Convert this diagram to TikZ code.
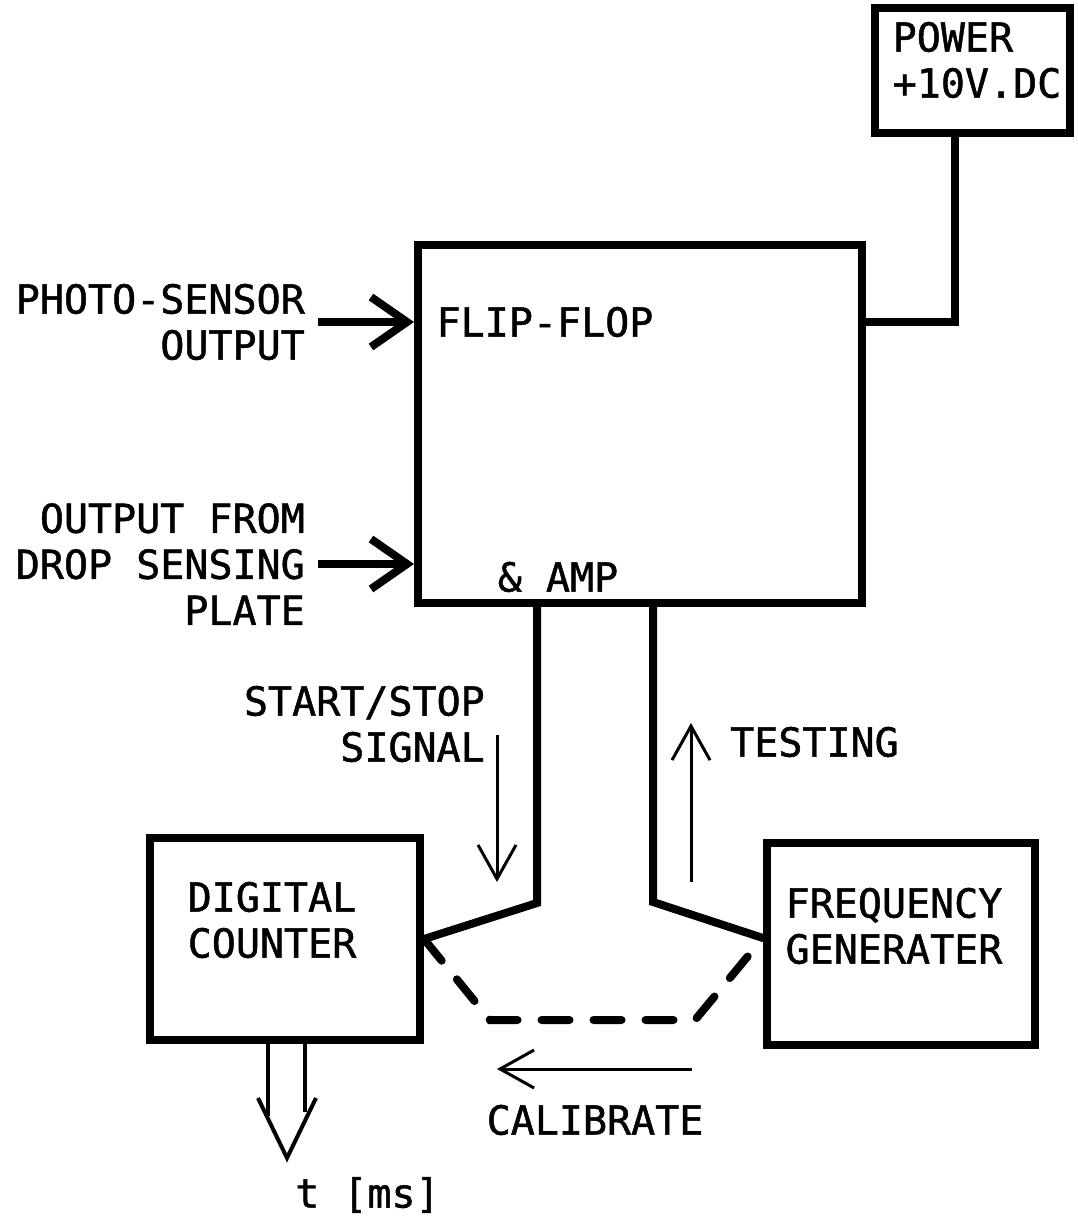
\documentclass[tikz,border=0pt]{standalone}
\usepackage{fontspec}
\newfontfamily\plotfont[FakeBold=1.2]{DejaVu Sans Mono}
\usetikzlibrary{arrows.meta}

\begin{document}
\begin{tikzpicture}[x=1pt,y=-1pt,
  box/.style={draw,line width=8pt,inner sep=0pt},
  lbl/.style={font=\plotfont\fontsize{40}{46}\selectfont,inner sep=0pt},
  wire/.style={line width=8pt},
  feed/.style={line width=8pt,-{Straight Barb[length=36pt,width=50pt]}},
  sig/.style={line width=3pt,-{Straight Barb[length=34pt,width=38pt]}},
  link/.style={line width=8pt,line cap=round,dash pattern=on 28pt off 24pt},
  outarrow/.style={line width=4pt}]
  \useasboundingbox (0,0) rectangle (1078,1226);
  % blocks
  \node[box,minimum width=195pt,minimum height=125pt] (power) at (972,70) {};
  \node[lbl,align=left] (powtxt) at (977,60) {POWER\\+10V.DC};
  \node[box,minimum width=444pt,minimum height=358pt] (ff) at (640,424) {};
  \node[lbl] (ffa) at (545,322) {FLIP-FLOP};
  \node[lbl] (ffb) at (558,577) {\& AMP};
  \node[box,minimum width=270pt,minimum height=202pt] (counter) at (285,939) {};
  \node[lbl,align=center] (countertxt) at (272,920) {DIGITAL\\COUNTER};
  \node[box,minimum width=268pt,minimum height=202pt] (freq) at (901,944) {};
  \node[lbl,align=left] (freqtxt) at (894,926) {FREQUENCY\\GENERATER};
  % labels
  \node[lbl,align=right,anchor=east] (photo) at (305,322) {PHOTO-SENSOR\\OUTPUT};
  \node[lbl,align=right,anchor=east] (drop) at (305,564) {OUTPUT FROM\\DROP SENSING\\PLATE};
  \node[lbl,align=right,anchor=east] (start) at (485,724) {START/STOP\\SIGNAL};
  \node[lbl,anchor=west] (test) at (730,742) {TESTING};
  \node[lbl] (calib) at (595,1120) {CALIBRATE};
  \node[lbl,anchor=west] (tms) at (295,1195) {t [ms]};
  % wiring
  \coordinate (pwbend) at (955,322);
  \draw[wire] (power.south -| pwbend) |- (ff.east |- pwbend);
  \draw[feed] ([xshift=13pt]photo.east) -- (ff.west |- photo.east);
  \draw[feed] ([xshift=13pt]drop.east) -- (ff.west |- drop.east);
  \coordinate (lbend) at (537,903);
  \coordinate (rbend) at (653,902);
  \draw[wire] (ff.south -| lbend) -- (lbend) -- (counter.east);
  \draw[wire] (ff.south -| rbend) -- (rbend) -- ([yshift=6pt]freq.west);
  \draw[link] (counter.east) -- (490,1020) -- (695,1020) -- ([yshift=6pt]freq.west);
  % signal arrows
  \coordinate (ssa) at (497,735);
  \coordinate (ssb) at (497,882);
  \draw[sig] (ssa) -- (ssb);
  \coordinate (tsa) at (691,882);
  \coordinate (tsb) at (691,723);
  \draw[sig] (tsa) -- (tsb);
  \coordinate (cla) at (692,1069);
  \coordinate (clb) at (497,1069);
  \draw[sig] (cla) -- (clb);
  % output
  \coordinate (tip) at (287,1158);
  \draw[outarrow] (counter.south -| 268,0) -- (268,1116);
  \draw[outarrow] (counter.south -| 305,0) -- (305,1112);
  \draw[outarrow] (258,1098) -- (tip) -- (316,1098);
\end{tikzpicture}
\end{document}
